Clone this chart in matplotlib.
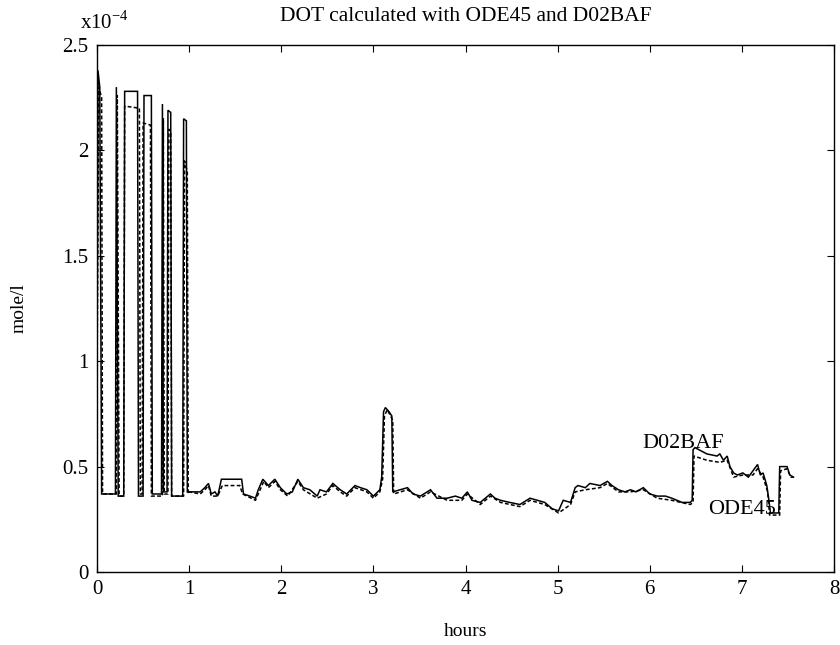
import matplotlib
matplotlib.use("Agg")
import matplotlib.pyplot as plt
import numpy as np

plt.rcParams['font.family'] = ['Liberation Serif', 'DejaVu Serif']
plt.rcParams['mathtext.fontset'] = 'custom'
plt.rcParams['mathtext.rm'] = 'Liberation Serif'

# --- DOT, D02BAF solution (hours, mole/l x 1e-4) ---
t_d02 = [0.00, 0.01, 0.03, 0.05, 0.20, 0.21, 0.23, 0.29, 0.30, 0.44, 0.45, 0.50,
         0.51, 0.59, 0.60, 0.70, 0.71, 0.72, 0.76, 0.77, 0.80, 0.81, 0.93, 0.94,
         0.97, 0.98,
         1.00, 1.12, 1.17, 1.21, 1.24, 1.28, 1.31, 1.35, 1.57, 1.59, 1.66, 1.72,
         1.75, 1.80, 1.86, 1.93, 1.99, 2.06, 2.12, 2.18, 2.24, 2.31, 2.39, 2.42,
         2.49, 2.56, 2.64, 2.71, 2.80, 2.86, 2.93, 3.00, 3.07, 3.09, 3.11, 3.13,
         3.17, 3.20, 3.21, 3.29, 3.37, 3.43, 3.51, 3.62, 3.69, 3.80, 3.89, 3.96,
         4.02, 4.07, 4.16, 4.27, 4.32, 4.38, 4.48, 4.59, 4.70, 4.78, 4.86, 4.94,
         5.01, 5.06, 5.14, 5.19, 5.22, 5.30, 5.35, 5.46, 5.54, 5.59, 5.66, 5.73,
         5.79, 5.85, 5.93, 6.00, 6.08, 6.17, 6.24, 6.35, 6.44, 6.46, 6.47, 6.49,
         6.62, 6.73, 6.76, 6.80, 6.84, 6.87, 6.91, 6.95, 7.01, 7.07, 7.12, 7.17,
         7.20, 7.23, 7.27, 7.29, 7.31, 7.40, 7.41, 7.49, 7.52, 7.56]
v_d02 = [0.90, 2.38, 2.30, 0.37, 0.37, 2.30, 0.36, 0.36, 2.28, 2.28, 0.36, 0.36,
         2.26, 2.26, 0.37, 0.37, 2.22, 0.38, 0.38, 2.19, 2.18, 0.36, 0.36, 2.15,
         2.14, 0.38,
         0.38, 0.38, 0.40, 0.42, 0.37, 0.38, 0.36, 0.44, 0.44, 0.37, 0.36, 0.35,
         0.39, 0.44, 0.41, 0.44, 0.40, 0.37, 0.38, 0.44, 0.40, 0.39, 0.36, 0.39,
         0.38, 0.42, 0.39, 0.37, 0.41, 0.40, 0.39, 0.36, 0.39, 0.45, 0.76, 0.78,
         0.76, 0.74, 0.38, 0.39, 0.40, 0.37, 0.36, 0.39, 0.35, 0.35, 0.36, 0.35,
         0.38, 0.34, 0.33, 0.37, 0.35, 0.34, 0.33, 0.32, 0.35, 0.34, 0.33, 0.30,
         0.29, 0.34, 0.33, 0.40, 0.41, 0.40, 0.42, 0.41, 0.43, 0.41, 0.39, 0.38,
         0.39, 0.38, 0.40, 0.37, 0.36, 0.36, 0.35, 0.33, 0.33, 0.34, 0.58, 0.59,
         0.56, 0.55, 0.56, 0.53, 0.55, 0.50, 0.47, 0.46, 0.47, 0.45, 0.48, 0.51,
         0.46, 0.47, 0.41, 0.35, 0.28, 0.28, 0.50, 0.50, 0.46, 0.45]

# --- DOT, ODE45 solution ---
t_ode = [0.00, 0.02, 0.05, 0.06, 0.21, 0.22, 0.24, 0.29, 0.30, 0.46, 0.47, 0.49,
         0.50, 0.58, 0.59, 0.71, 0.72, 0.73, 0.77, 0.78, 0.80, 0.81, 0.94, 0.95,
         0.98, 0.99,
         1.00, 1.12, 1.17, 1.21, 1.24, 1.31, 1.36, 1.55, 1.58, 1.72, 1.76, 1.81,
         1.86, 1.93, 1.99, 2.07, 2.18, 2.24, 2.39, 2.49, 2.56, 2.64, 2.71, 2.80,
         2.93, 3.00, 3.07, 3.10, 3.12, 3.15, 3.21, 3.22, 3.37, 3.51, 3.62, 3.80,
         3.96, 4.02, 4.16, 4.27, 4.38, 4.59, 4.70, 4.86, 5.01, 5.14, 5.19, 5.30,
         5.46, 5.54, 5.66, 5.79, 5.93, 6.08, 6.24, 6.44, 6.47, 6.48, 6.62, 6.76,
         6.84, 6.91, 7.01, 7.12, 7.17, 7.23, 7.28, 7.30, 7.41, 7.42, 7.49, 7.53,
         7.56]
v_ode = [0.90, 2.30, 2.25, 0.37, 0.37, 2.26, 0.36, 0.36, 2.21, 2.20, 0.37, 0.37,
         2.13, 2.12, 0.36, 0.36, 2.15, 0.37, 0.37, 2.10, 2.08, 0.36, 0.36, 1.95,
         1.90, 0.37,
         0.38, 0.37, 0.39, 0.41, 0.36, 0.36, 0.41, 0.41, 0.37, 0.34, 0.38, 0.43,
         0.40, 0.43, 0.39, 0.36, 0.43, 0.39, 0.35, 0.37, 0.41, 0.38, 0.36, 0.40,
         0.38, 0.35, 0.38, 0.44, 0.74, 0.77, 0.72, 0.37, 0.39, 0.35, 0.38, 0.34,
         0.34, 0.37, 0.32, 0.36, 0.33, 0.31, 0.34, 0.32, 0.28, 0.32, 0.38, 0.39,
         0.40, 0.42, 0.38, 0.38, 0.39, 0.35, 0.34, 0.32, 0.33, 0.55, 0.53, 0.52,
         0.53, 0.45, 0.46, 0.46, 0.49, 0.45, 0.38, 0.27, 0.27, 0.48, 0.49, 0.45,
         0.45]

# --- Figure ---
fig = plt.figure(figsize=(8.4, 6.45), dpi=100)
ax = fig.add_axes([0.1155, 0.1132, 0.8774, 0.8171])

ax.plot(t_d02, v_d02, color='black', lw=1.1, solid_joinstyle='miter')
ax.plot(t_ode, v_ode, color='black', lw=1.1, linestyle=(0, (2.5, 1.5)))

ax.set_xlim(0, 8)
ax.set_ylim(0, 2.5)
ax.set_xticks(np.arange(0, 9, 1))
ax.set_yticks([0, 0.5, 1, 1.5, 2, 2.5])
ax.set_yticklabels(['0', '0.5', '1', '1.5', '2', '2.5'])
ax.tick_params(direction='in', top=True, right=True, length=5, width=0.8,
               labelsize=15, pad=6)
for s in ax.spines.values():
    s.set_linewidth(1.0)

ax.set_title('DOT calculated with ODE45 and D02BAF', fontsize=15.5, pad=17)
ax.set_xlabel('hours', fontsize=14, labelpad=17)
ax.set_ylabel('mole/l', fontsize=14, labelpad=25)
fig.text(0.095, 0.965, r'x10$^{\mathrm{-4}}$', fontsize=15, va='center')

# Curve labels
ax.text(5.92, 0.565, 'D02BAF', fontsize=16, ha='left', va='bottom')
ax.text(6.63, 0.275, 'ODE45', fontsize=16, ha='left', va='baseline')

fig.savefig('out.png', dpi=100)
